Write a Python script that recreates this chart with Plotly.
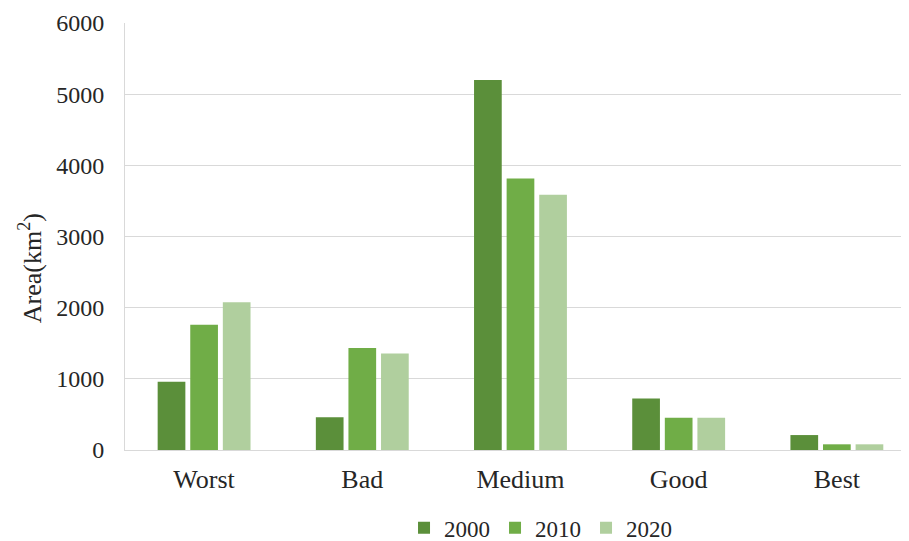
import plotly.graph_objects as go

categories = ["Worst", "Bad", "Medium", "Good", "Best"]
years = ["2000", "2010", "2020"]
v2000 = [960, 460, 5200, 725, 210]
v2010 = [1760, 1435, 3815, 453, 80]
v2020 = [2075, 1356, 3586, 453, 80]
colors = ["#5b8f3a", "#70ad47", "#b0cf9e"]

fig = go.Figure()
for name, vals, c in zip(years, [v2000, v2010, v2020], colors):
    fig.add_trace(go.Bar(x=categories, y=vals, name=name, marker_color=c,
                         marker_line_width=0))

fam = "Liberation Serif, Times New Roman, serif"
xfont = dict(family=fam, size=26, color="#262626")
yfont = dict(family=fam, size=24, color="#262626")
tfont = dict(family=fam, size=26, color="#262626")
lfont = dict(family=fam, size=23, color="#262626")
fig.update_layout(
    width=901, height=533,
    paper_bgcolor="white", plot_bgcolor="white",
    margin=dict(l=117, r=0, t=15, b=91, autoexpand=False),
    font=xfont,
    barmode="group", bargap=0.382, bargroupgap=0.15,
    showlegend=True,
    legend=dict(orientation="h", x=0.53, xanchor="center", y=-0.182, yanchor="middle",
                font=lfont, itemwidth=30, tracegroupgap=0),
)
fig.add_annotation(text="Area(km<sup>2</sup>)", textangle=-90, font=tfont,
                   xref="paper", yref="paper", x=-0.121, y=0.426,
                   xanchor="center", yanchor="middle", showarrow=False)
fig.update_xaxes(range=[-0.5, 4.456], showline=True, linecolor="#d9d9d9", linewidth=1,
                 ticks="", ticklabelstandoff=6, tickfont=xfont, automargin=False)
fig.update_yaxes(range=[0, 6000], dtick=1000, showgrid=True, gridcolor="#d9d9d9",
                 gridwidth=1, showline=True, linecolor="#d9d9d9", zeroline=False,
                 ticks="", ticklabelstandoff=15, tickfont=yfont, automargin=False)
fig.write_html("out.html")
